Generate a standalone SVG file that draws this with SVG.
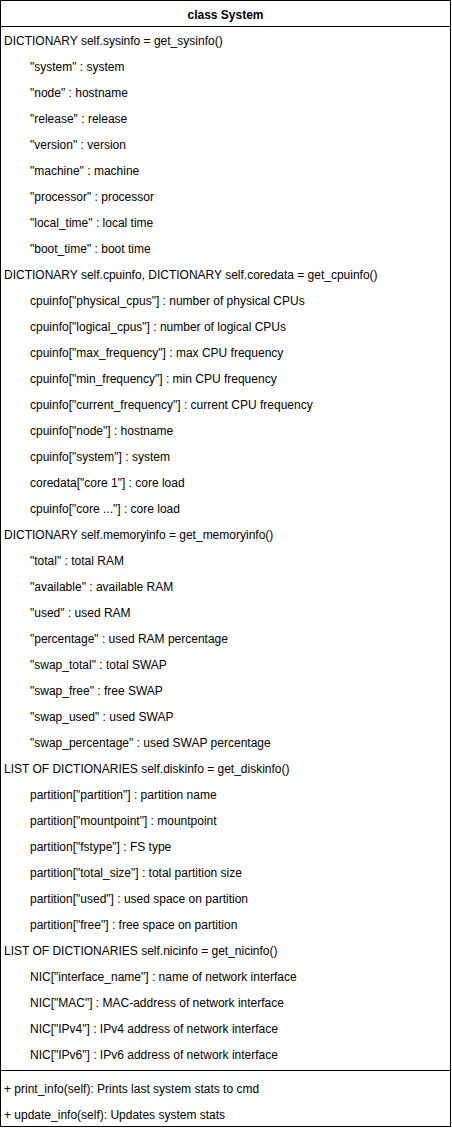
<svg xmlns="http://www.w3.org/2000/svg" width="452" height="1130" viewBox="0 0 452 1130">
<style>
text{font-family:"Liberation Sans",Arial,Helvetica,sans-serif;font-size:12px;fill:#000}
.t{font-weight:bold;text-anchor:middle}
.l{stroke:#000;stroke-width:1;fill:none}
</style>
<rect width="452" height="1130" fill="#fff"/>
<g id="class-System">
<rect class="l" x="0.5" y="0.5" width="450" height="1126" fill="#fff"/>
<line class="l" x1="0.5" y1="26.5" x2="450.5" y2="26.5"/>
<line class="l" x1="0.5" y1="1070.5" x2="450.5" y2="1070.5"/>
<text class="t" x="225.5" y="18.7">class System</text>
<g id="attributes" transform="translate(0,1.5)">
<text x="4" y="43.2">DICTIONARY self.sysinfo = get_sysinfo()</text>
<text x="30" y="69.2">"system" : system</text>
<text x="30" y="95.2">"node" : hostname</text>
<text x="30" y="121.2">"release" : release</text>
<text x="30" y="147.2">"version" : version</text>
<text x="30" y="173.2">"machine" : machine</text>
<text x="30" y="199.2">"processor" : processor</text>
<text x="30" y="225.2">"local_time" : local time</text>
<text x="30" y="251.2">"boot_time" : boot time</text>
<text x="4" y="277.2">DICTIONARY self.cpuinfo, DICTIONARY self.coredata = get_cpuinfo()</text>
<text x="30" y="303.2">cpuinfo["physical_cpus"] : number of physical CPUs</text>
<text x="30" y="329.2">cpuinfo["logical_cpus"] : number of logical CPUs</text>
<text x="30" y="355.2">cpuinfo["max_frequency"] : max CPU frequency</text>
<text x="30" y="381.2">cpuinfo["min_frequency"] : min CPU frequency</text>
<text x="30" y="407.2">cpuinfo["current_frequency"] : current CPU frequency</text>
<text x="30" y="433.2">cpuinfo["node"] : hostname</text>
<text x="30" y="459.2">cpuinfo["system"] : system</text>
<text x="30" y="485.2">coredata["core 1"] : core load</text>
<text x="30" y="511.2">cpuinfo["core ..."] : core load</text>
<text x="4" y="537.2">DICTIONARY self.memoryinfo = get_memoryinfo()</text>
<text x="30" y="563.2">"total" : total RAM</text>
<text x="30" y="589.2">"available" : available RAM</text>
<text x="30" y="615.2">"used" : used RAM</text>
<text x="30" y="641.2">"percentage" : used RAM percentage</text>
<text x="30" y="667.2">"swap_total" : total SWAP</text>
<text x="30" y="693.2">"swap_free" : free SWAP</text>
<text x="30" y="719.2">"swap_used" : used SWAP</text>
<text x="30" y="745.2">"swap_percentage" : used SWAP percentage</text>
<text x="4" y="771.2">LIST OF DICTIONARIES self.diskinfo = get_diskinfo()</text>
<text x="30" y="797.2">partition["partition"] : partition name</text>
<text x="30" y="823.2">partition["mountpoint"] : mountpoint</text>
<text x="30" y="849.2">partition["fstype"] : FS type</text>
<text x="30" y="875.2">partition["total_size"] : total partition size</text>
<text x="30" y="901.2">partition["used"] : used space on partition</text>
<text x="30" y="927.2">partition["free"] : free space on partition</text>
<text x="4" y="953.2">LIST OF DICTIONARIES self.nicinfo = get_nicinfo()</text>
<text x="30" y="979.2">NIC["interface_name"] : name of network interface</text>
<text x="30" y="1005.2">NIC["MAC"] : MAC-address of network interface</text>
<text x="30" y="1031.2">NIC["IPv4"] : IPv4 address of network interface</text>
<text x="30" y="1057.2">NIC["IPv6"] : IPv6 address of network interface</text>
</g>
<g id="methods" transform="translate(0,1.5)">
<text x="4" y="1091.2">+ print_info(self): Prints last system stats to cmd</text>
<text x="4" y="1117.2">+ update_info(self): Updates system stats</text>
</g>
</g>
<g id="connectors"></g>
</svg>
